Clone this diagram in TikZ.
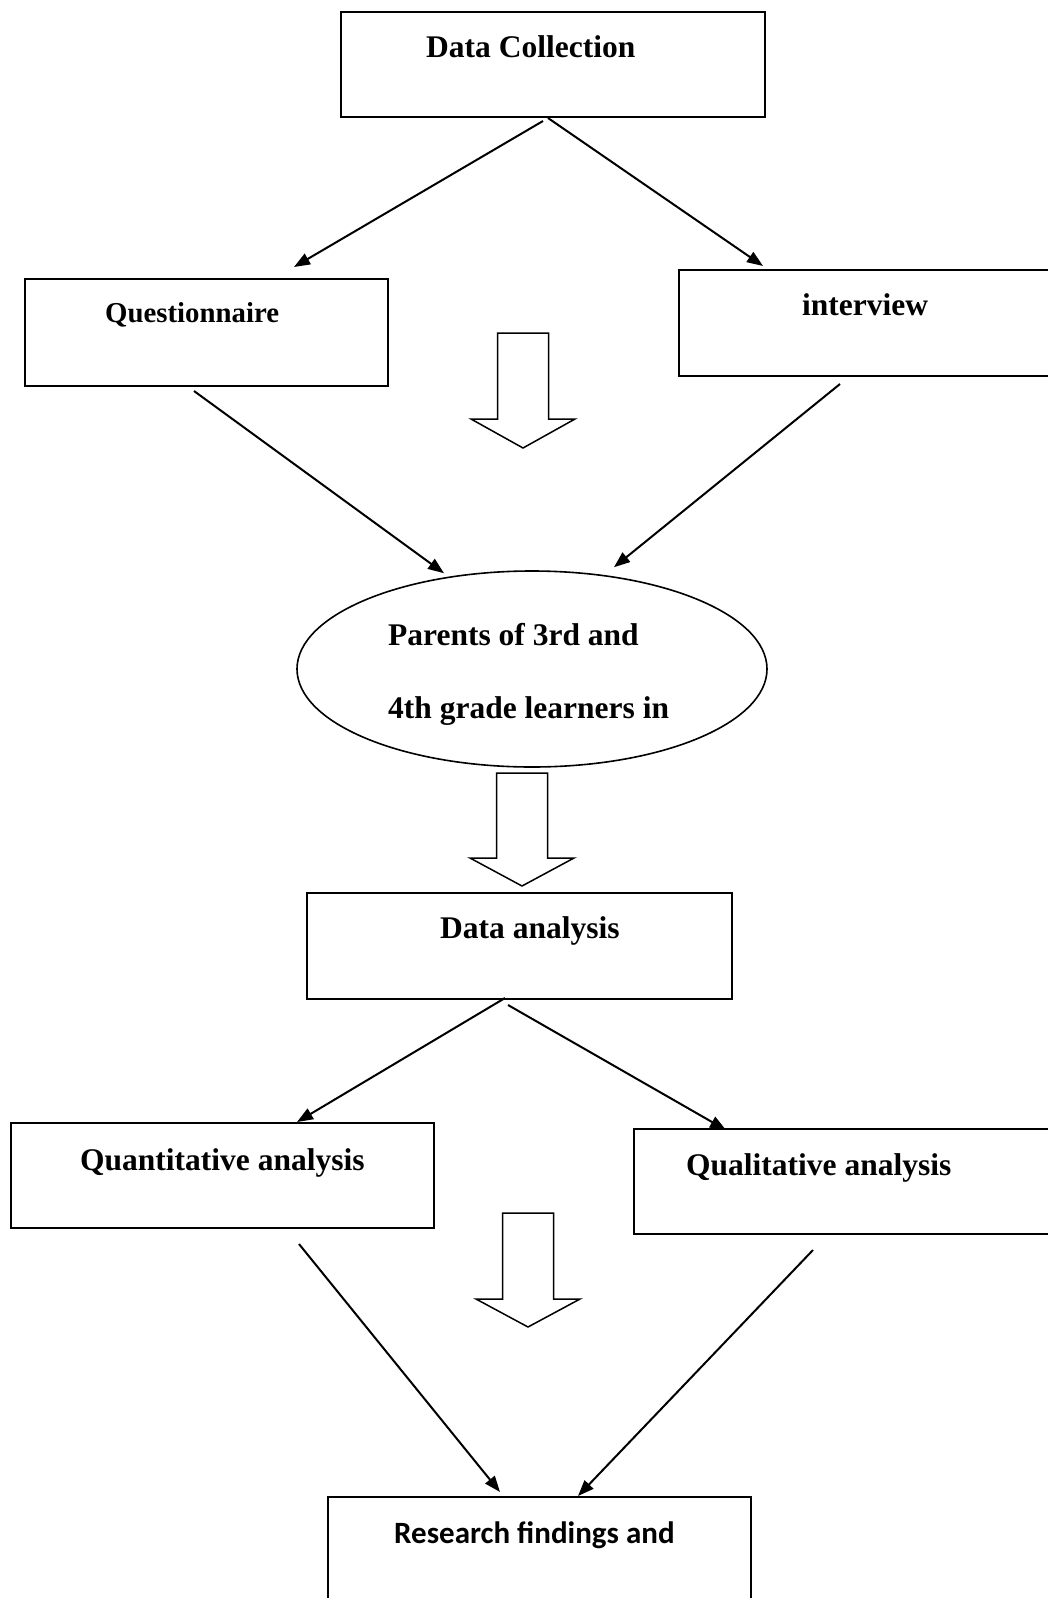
\documentclass[tikz,border=0pt]{standalone}
\usepackage{fontspec}
\setmainfont{Liberation Serif}
\newfontfamily\calfont{Carlito}
\usetikzlibrary{arrows.meta,shapes.geometric}

% hollow down arrow: centre x, top y, head base y, tip y
\newcommand{\hollowdown}[4]{%
  \draw[hollow] (#1-25.5,#2) -- (#1+25.5,#2) -- (#1+25.5,#3) -- (#1+52,#3)
    -- (#1,#4) -- (#1-52,#3) -- (#1-25.5,#3) -- cycle;}

\begin{document}
\begin{tikzpicture}[x=1pt,y=-1pt]
    \tikzstyle{box}=[draw,line width=2pt,inner sep=0pt]
    \tikzstyle{txt}=[anchor=base west,inner sep=0pt,font=\bfseries\fontsize{31.5}{38}\selectfont]
    \tikzstyle{conn}=[line width=2pt,-{Triangle[length=16pt,width=12pt]}]
    \tikzstyle{hollow}=[line width=1.5pt,line join=miter]
    \useasboundingbox (0,0) rectangle (1048,1598);

    % boxes
    \node[box,minimum width=424pt,minimum height=105pt] (dc) at (553,64.5) {};
    \node[box,minimum width=363pt,minimum height=107pt] (quest) at (206.5,332.5) {};
    \node[box,minimum width=381pt,minimum height=106pt] (intv) at (869.5,323) {};
    \node[draw,ellipse,line width=1.6pt,inner sep=0pt,minimum width=470pt,minimum height=196pt] (pop) at (532,669) {};
    \node[box,minimum width=425pt,minimum height=106pt] (da) at (519.5,946) {};
    \node[box,minimum width=423pt,minimum height=105pt] (quant) at (222.5,1175.5) {};
    \node[box,minimum width=426pt,minimum height=105pt] (qual) at (847,1181.5) {};
    \node[box,minimum width=423pt,minimum height=113pt] (res) at (539.5,1553.5) {};

    % texts
    \node[txt] (dctext) at (426,57) {Data Collection};
    \node[txt,font=\bfseries\fontsize{28.8}{34}\selectfont] (questtext) at (105,322) {Questionnaire};
    \node[txt] (intvtext) at (802,315) {interview};
    \node[txt] (poptext1) at (388,645) {Parents of 3rd and};
    \node[txt] (poptext2) at (388,718) {4th grade learners in};
    \node[txt] (datext) at (440,938) {Data analysis};
    \node[txt] (quanttext) at (80,1170) {Quantitative analysis};
    \node[txt] (qualtext) at (686,1175) {Qualitative analysis};
    \node[txt,font=\calfont\bfseries\fontsize{31}{38}\selectfont] (restext) at (394,1543) {Research findings and};

    % connectors
    \draw[conn] ([xshift=-10pt,yshift=-3pt]dc.south) -- ([xshift=87.5pt,yshift=11pt]quest.north);
    \draw[conn] ([xshift=-5pt]dc.south) -- ([xshift=85pt,yshift=3pt]intv.north west);
    \draw[conn] ([xshift=-12.5pt,yshift=-4pt]quest.south) -- ([xshift=-88pt,yshift=-3pt]pop.north);
    \draw[conn] ([xshift=162pt,yshift=-7pt]intv.south west) -- ([xshift=82pt,yshift=3pt]pop.north);
    \draw[conn] ([xshift=-14.5pt,yshift=2pt]da.south) -- ([xshift=74.5pt]quant.north);
    \draw[conn] ([xshift=-11.5pt,yshift=-5pt]da.south) -- ([xshift=93pt,yshift=-2pt]qual.north west);
    \draw[conn] ([xshift=76.5pt,yshift=-15pt]quant.south) -- ([xshift=173pt,yshift=4pt]res.north west);
    \draw[conn] ([xshift=180pt,yshift=-15pt]qual.south west) -- ([xshift=251pt]res.north west);

    % hollow arrows
    \hollowdown{523}{333}{419}{448}
    \hollowdown{522}{773}{858}{886}
    \hollowdown{528}{1213}{1299}{1327}
\end{tikzpicture}
\end{document}
